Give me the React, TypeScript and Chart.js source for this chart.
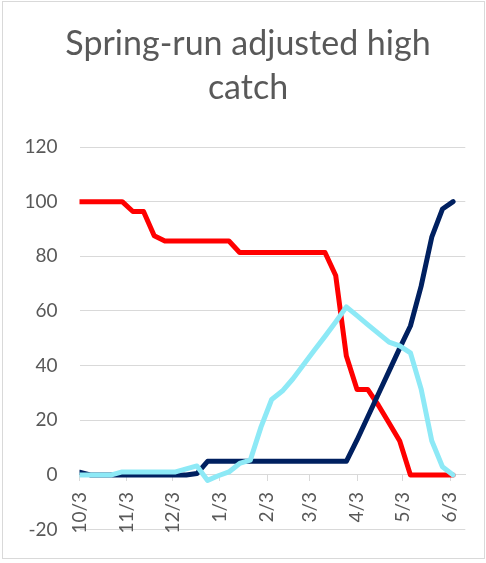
import React, { useEffect, useRef } from "react";
import { Chart, registerables } from "chart.js";

Chart.register(...registerables);

// Days since 10/3 (weekly observations)
const days = [0, 7, 14, 21, 28, 35, 42, 49, 56, 63, 70, 77, 84, 91, 98, 105, 112, 119, 126, 133, 140, 147, 154, 161, 168, 175, 182, 189, 196, 203, 210, 217, 224, 231, 238, 245];

const redSeries = [100, 100, 100, 100, 100, 96.4, 96.4, 87.5, 85.6, 85.6, 85.6, 85.6, 85.6, 85.6, 85.6, 81.4, 81.4, 81.4, 81.4, 81.4, 81.4, 81.4, 81.4, 81.4, 73, 43.5, 31.3, 31.3, 25.5, 19, 12.4, 0, 0, 0, 0, 0];
const cyanSeries = [0, 0, 0, 0, 1.1, 1.1, 1.1, 1.1, 1.1, 1.1, 2.2, 3.3, -2, -0.3, 1.1, 4.2, 5.4, 17.5, 27.6, 30.7, 35.2, 40.4, 45.6, 50.7, 56, 61.5, 58.3, 55, 51.8, 48.6, 47.2, 44.7, 31.5, 12.5, 3, 0];
const navySeries = [1, 0, 0, 0, 0, 0, 0, 0, 0, 0, 0, 0.5, 5, 5, 5, 5, 5, 5, 5, 5, 5, 5, 5, 5, 5, 5, 12.8, 21.2, 29.6, 38, 46.4, 54.5, 69, 87, 97.3, 100];

const tickDays = [0, 31, 61, 92, 123, 151, 182, 212, 243];
const tickLabels = ["10/3", "11/3", "12/3", "1/3", "2/3", "3/3", "4/3", "5/3", "6/3"];

const titleLines = ["Spring-run adjusted high", "catch"];

const toPoints = (vals: number[]) => vals.map((v, i) => ({ x: days[i], y: v }));

export default function App() {
  const ref = useRef<HTMLCanvasElement | null>(null);
  useEffect(() => {
    document.body.style.margin = "0";
    if (!ref.current) return;
    const font = "Lato, 'Open Sans', sans-serif";
    const common = {
      fill: false,
      pointRadius: 0,
      pointHoverRadius: 0,
      borderWidth: 5,
      borderJoinStyle: "round" as const,
      borderCapStyle: "round" as const,
      tension: 0,
    };
    const chart = new Chart(ref.current, {
      type: "line",
      data: {
        datasets: [
          { ...common, label: "red", data: toPoints(redSeries), borderColor: "#FF0000", order: 3 },
          { ...common, label: "navy", data: toPoints(navySeries), borderColor: "#002060", order: 2 },
          { ...common, label: "cyan", data: toPoints(cyanSeries), borderColor: "#8DE9F6", order: 1 },
        ],
      },
      options: {
        animation: false,
        responsive: false,
        maintainAspectRatio: false,
        events: [],
        layout: { padding: { top: 0, left: 10, right: 0, bottom: 32.3 } },
        plugins: {
          legend: { display: false },
          tooltip: { enabled: false },
          title: {
            display: true,
            text: titleLines,
            color: "#595959",
            font: { family: font, size: 34, weight: "normal", lineHeight: "44px" as any },
            padding: { top: 22, bottom: 37 },
          },
        },
        scales: {
          x: {
            type: "linear",
            position: { y: 0 } as any,
            min: 0,
            max: 253,
            afterBuildTicks: (scale: any) => {
              scale.ticks = tickDays.map((v) => ({ value: v }));
            },
            ticks: {
              autoSkip: false,
              maxRotation: 90,
              minRotation: 90,
              padding: 11,
              color: "#595959",
              font: { family: font, size: 19 },
              callback: (_v: any, i: number) => tickLabels[i],
            },
            grid: {
              drawOnChartArea: false,
              drawTicks: true,
              tickLength: 6,
              color: "#D9D9D9",
            },
            border: { display: true, color: "#D9D9D9", width: 1 },
          },
          y: {
            min: -20,
            max: 120,
            afterFit: (scale: any) => {
              scale.width = 69.5;
            },
            ticks: {
              stepSize: 20,
              padding: 22,
              color: "#595959",
              font: { family: font, size: 19 },
            },
            grid: { color: "#D9D9D9", drawTicks: false },
            border: { display: false },
          },
          yRight: {
            position: "right",
            display: true,
            afterFit: (scale: any) => {
              scale.width = 20.7;
            },
            ticks: { display: false },
            grid: { display: false, drawOnChartArea: false },
            border: { display: false },
          },
        },
      },
    });
    return () => chart.destroy();
  }, []);
  return (
    <div style={{ position: "relative", width: 486, height: 563 }}>
      <div
        style={{
          position: "absolute",
          left: 2,
          top: 1,
          width: 481,
          height: 556,
          border: "1px solid #D9D9D9",
        }}
      />
      <canvas ref={ref} width={486} height={563} style={{ position: "absolute", left: 0, top: 0, width: 486, height: 563 }} />
    </div>
  );
}
